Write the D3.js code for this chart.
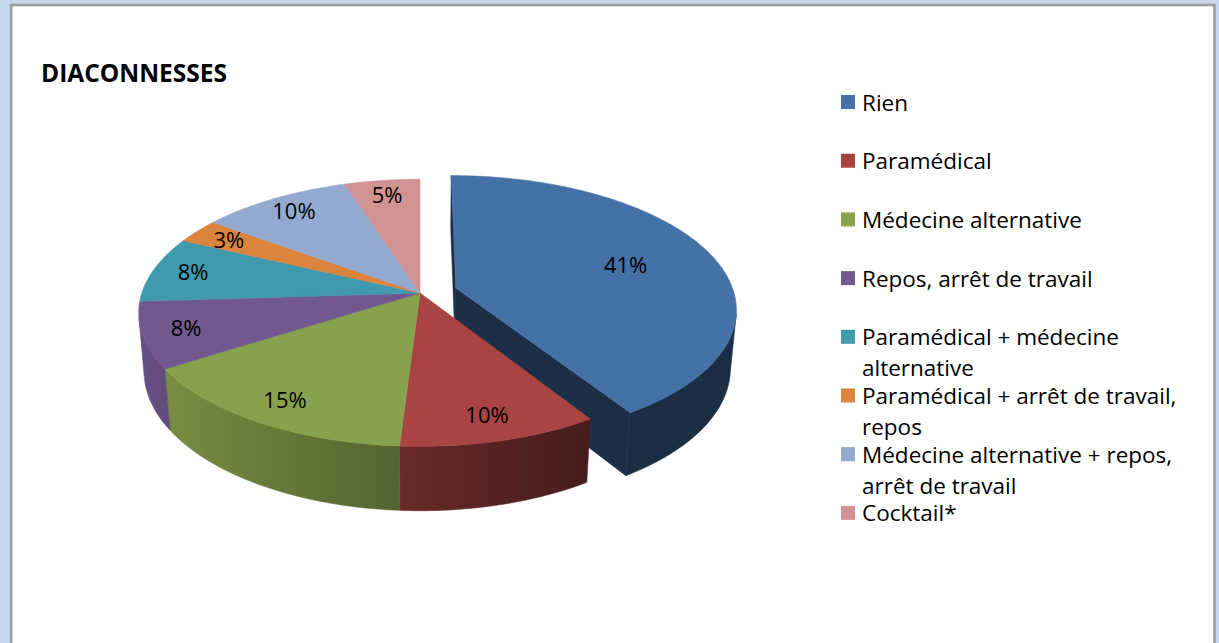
<!DOCTYPE html>
<html>
<head>
<meta charset="utf-8">
<script src="https://cdn.jsdelivr.net/npm/d3@7"></script>
<style>
  body { margin: 0; background: #c6d7ee; overflow: hidden; }
  svg { display: block; }
</style>
</head>
<body>
<script>
// data
const categories = [
    'Rien',
    'Paramédical',
    'Médecine alternative',
    'Repos, arrêt de travail',
    'Paramédical + médecine alternative',
    'Paramédical + arrêt de travail, repos',
    'Médecine alternative + repos, arrêt de travail',
    'Cocktail*'
];
const values = [41, 10, 15, 8, 8, 3, 10, 5];
const colors = ['#4471a6', '#a84441', '#87a24c', '#71588f', '#4199ae', '#da843d', '#93a9cf', '#d09392'];
const explodedSlices = ['Rien'];
const title = 'DIACONNESSES';

const width = 1219;
const height = 643;

const svg = d3.select('body').append('svg')
    .attr('width', width)
    .attr('height', height);

// chart frame
svg.append('rect')
    .attr('x', 11.2)
    .attr('y', 5)
    .attr('width', 1203.3)
    .attr('height', height + 10)
    .attr('fill', '#fff')
    .attr('stroke', '#9d9d9d')
    .attr('stroke-width', 2.6);

svg.append('text')
    .attr('x', 41)
    .attr('y', 82)
    .style('font-family', '"Open Sans", sans-serif')
    .style('font-weight', 700)
    .style('font-size', '24.5px')
    .style('fill', '#000')
    .text(title);

// 3d pie projection (perspective, tilted towards the viewer)
const cx = 420, cy = 293;
const camDist = 5.95, focal = 1655;
const tilt = 28 * Math.PI / 180;
const depth = 0.24, pull = 0.135;
const sinT = Math.sin(tilt), cosT = Math.cos(tilt);

function project(x, y, z) {
    const dist = camDist - (y * sinT + z * cosT);
    return [cx + focal * x / dist, cy + focal * (z * sinT - y * cosT) / dist];
}

// outer side is visible between these two angles
const silA = Math.acos(-1 / (camDist * cosT));
const silB = 2 * Math.PI - silA;

const data = categories.map((c, i) => ({ name: c, value: values[i], color: colors[i] }));
const pie = d3.pie().sort(null).value(d => d.value);
const slices = pie(data);
const n = slices.length;

slices.forEach(s => {
    const mid = (s.startAngle + s.endAngle) / 2;
    const off = explodedSlices.includes(s.data.name) ? pull : 0;
    s.exploded = off > 0;
    s.ox = off * Math.sin(mid);
    s.oz = -off * Math.cos(mid);
    s.mid = mid;
});

const pt = (s, a, r, y) => project(s.ox + r * Math.sin(a), y, s.oz - r * Math.cos(a));
const arcPts = (s, a1, a2, y) => {
    const k = Math.max(2, Math.ceil((a2 - a1) / 0.02));
    return d3.range(k + 1).map(i => pt(s, a1 + (a2 - a1) * i / k, 1, y));
};

const shade = (c, k) => {
    const col = d3.rgb(c);
    return d3.rgb(col.r * k, col.g * k, col.b * k).formatHex();
};

const defs = svg.append('defs');
slices.forEach((s, i) => {
    const g = defs.append('linearGradient')
        .attr('id', 'side' + i)
        .attr('gradientUnits', 'userSpaceOnUse')
        .attr('x1', 140).attr('x2', 740)
        .attr('y1', 0).attr('y2', 0);
    g.append('stop').attr('offset', 0).attr('stop-color', shade(s.data.color, 0.9));
    g.append('stop').attr('offset', 0.75).attr('stop-color', shade(s.data.color, 0.41));
    g.append('stop').attr('offset', 1).attr('stop-color', shade(s.data.color, 0.41));
});

const line = d3.line();
const pieG = svg.append('g');

function wallVisible(s, a, isEnd) {
    const nx = isEnd ? Math.cos(a) : -Math.cos(a);
    const nz = isEnd ? Math.sin(a) : -Math.sin(a);
    return nx * (-s.ox) + nz * (camDist * cosT - s.oz) > 0;
}

function drawWalls(s, i) {
    const prev = slices[(i - 1 + n) % n], next = slices[(i + 1) % n];
    [[s.startAngle, false, prev], [s.endAngle, true, next]].forEach(([a, isEnd, nb]) => {
        if (!(s.exploded || nb.exploded)) return;
        if (!wallVisible(s, a, isEnd)) return;
        const poly = [pt(s, a, 0, 0), pt(s, a, 1, 0), pt(s, a, 1, -depth), pt(s, a, 0, -depth)];
        pieG.append('path')
            .attr('d', line(poly) + 'Z')
            .attr('fill', shade(s.data.color, 0.42))
            .attr('stroke', shade(s.data.color, 0.42))
            .attr('stroke-width', 0.6);
    });
}

function drawSide(s, i) {
    const a1 = Math.max(s.startAngle, silA), a2 = Math.min(s.endAngle, silB);
    if (a2 <= a1) return;
    const poly = arcPts(s, a1, a2, 0).concat(arcPts(s, a1, a2, -depth).reverse());
    pieG.append('path')
        .attr('d', line(poly) + 'Z')
        .attr('fill', `url(#side${i})`)
        .attr('stroke', `url(#side${i})`)
        .attr('stroke-width', 0.6);
}

function drawTop(s) {
    const poly = [pt(s, 0, 0, 0)].concat(arcPts(s, s.startAngle, s.endAngle, 0));
    pieG.append('path')
        .attr('d', line(poly) + 'Z')
        .attr('fill', s.data.color)
        .attr('stroke', s.data.color)
        .attr('stroke-width', 0.6);
}

// exploded slices sit behind the rest, draw them first
slices.forEach((s, i) => {
    if (!s.exploded) return;
    drawWalls(s, i); drawSide(s, i); drawTop(s);
});
slices.forEach((s, i) => { if (!s.exploded) drawWalls(s, i); });
slices.forEach((s, i) => { if (!s.exploded) drawSide(s, i); });
slices.forEach(s => { if (!s.exploded) drawTop(s); });

const total = d3.sum(values);
pieG.selectAll('.pct')
    .data(slices)
    .enter().append('text')
    .attr('class', 'pct')
    .attr('transform', d => `translate(${pt(d, d.mid, d.exploded ? 0.66 : 0.85, 0)})`)
    .attr('dy', '.35em')
    .attr('text-anchor', 'middle')
    .style('font-family', '"Open Sans", sans-serif')
    .style('font-size', '22px')
    .style('fill', '#000')
    .text(d => Math.round(d.data.value / total * 100) + '%');

// legend
const legendY = d3.scaleLinear().domain([0, n - 1]).range([102, 102 + 7 * 58.7]);
const legend = svg.append('g');
const items = legend.selectAll('.legend-item')
    .data(data)
    .enter().append('g')
    .attr('class', 'legend-item')
    .attr('transform', (d, i) => `translate(841, ${legendY(i)})`);

items.append('rect')
    .attr('x', 0)
    .attr('y', -7)
    .attr('width', 14)
    .attr('height', 14)
    .style('fill', d => d.color);

items.append('text')
    .attr('x', 21)
    .attr('y', 8.5)
    .style('font-family', '"Open Sans", sans-serif')
    .style('font-size', '22.5px')
    .style('fill', '#000')
    .each(function(d) {
        const t = d3.select(this);
        const words = d.name.split(' ');
        let lineWords = [];
        let tspan = t.append('tspan').attr('x', 21);
        words.forEach(w => {
            lineWords.push(w);
            tspan.text(lineWords.join(' '));
            if (tspan.node().getComputedTextLength() > 340 && lineWords.length > 1) {
                lineWords.pop();
                tspan.text(lineWords.join(' '));
                lineWords = [w];
                tspan = t.append('tspan').attr('x', 21).attr('dy', 31).text(w);
            }
        });
    });
</script>
</body>
</html>
